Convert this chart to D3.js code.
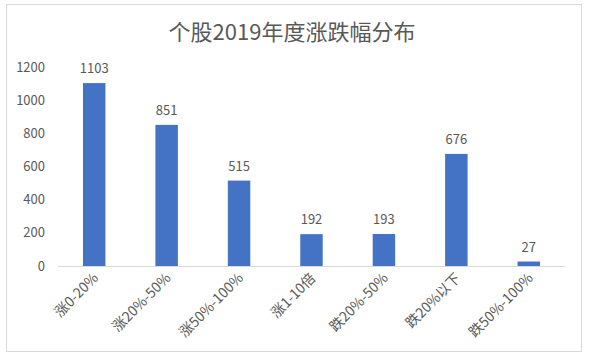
<!DOCTYPE html>
<html>
<head>
<meta charset="utf-8">
<script src="https://cdn.jsdelivr.net/npm/d3@7"></script>
<style>
  body { margin: 0; background: #fff; }
  text { font-family: "Noto Sans CJK SC", "Noto Sans", sans-serif; fill: #595959; }
</style>
</head>
<body>
<div id="chart"></div>
<script>
const categories = ["涨0-20%", "涨20%-50%", "涨50%-100%", "涨1-10倍", "跌20%-50%", "跌20%以下", "跌50%-100%"];
const values = [1103, 851, 515, 192, 193, 676, 27];
const yTicks = [0, 200, 400, 600, 800, 1000, 1200];
const title = "个股2019年度涨跌幅分布";

const width = 590, height = 360;
const margin = {top: 67, right: 25, bottom: 94, left: 58};

const svg = d3.select("#chart").append("svg")
    .attr("width", width)
    .attr("height", height);

svg.append("rect")
    .attr("x", 6.5).attr("y", 4.5)
    .attr("width", 575).attr("height", 347)
    .attr("fill", "#fff")
    .attr("stroke", "#d9d9d9");

svg.append("text")
    .attr("x", 292).attr("y", 40)
    .attr("text-anchor", "middle")
    .attr("font-size", "22px")
    .text(title);

const x = d3.scaleBand()
    .domain(categories)
    .range([margin.left, width - margin.right])
    .paddingInner(0.69)
    .paddingOuter(0.345);

const y = d3.scaleLinear()
    .domain([0, 1200])
    .range([height - margin.bottom, margin.top]);

// y labels
svg.append("g")
    .selectAll("text")
    .data(yTicks)
    .enter()
    .append("text")
    .attr("x", 45)
    .attr("y", d => y(d))
    .attr("dy", "0.35em")
    .attr("text-anchor", "end")
    .attr("font-size", "13px")
    .text(d => d);

// baseline
svg.append("line")
    .attr("x1", margin.left).attr("x2", width - margin.right)
    .attr("y1", y(0) + 0.5).attr("y2", y(0) + 0.5)
    .attr("stroke", "#d9d9d9");

svg.append("g")
    .selectAll("rect")
    .data(values)
    .enter()
    .append("rect")
    .attr("x", (d, i) => x(categories[i]))
    .attr("y", d => y(d))
    .attr("width", x.bandwidth())
    .attr("height", d => y(0) - y(d))
    .attr("fill", "#4472c4");

svg.append("g")
    .selectAll("text")
    .data(values)
    .enter()
    .append("text")
    .attr("x", (d, i) => x(categories[i]) + x.bandwidth() / 2)
    .attr("y", d => y(d) - 10)
    .attr("text-anchor", "middle")
    .attr("font-size", "13px")
    .text(d => d);

svg.append("g")
    .selectAll("text")
    .data(categories)
    .enter()
    .append("text")
    .attr("text-anchor", "end")
    .attr("font-size", "14px")
    .attr("transform", d => "translate(" + (x(d) + x.bandwidth() / 2 + 5) + "," + (y(0) + 13) + ") rotate(-45)")
    .text(d => d);
</script>
</body>
</html>
